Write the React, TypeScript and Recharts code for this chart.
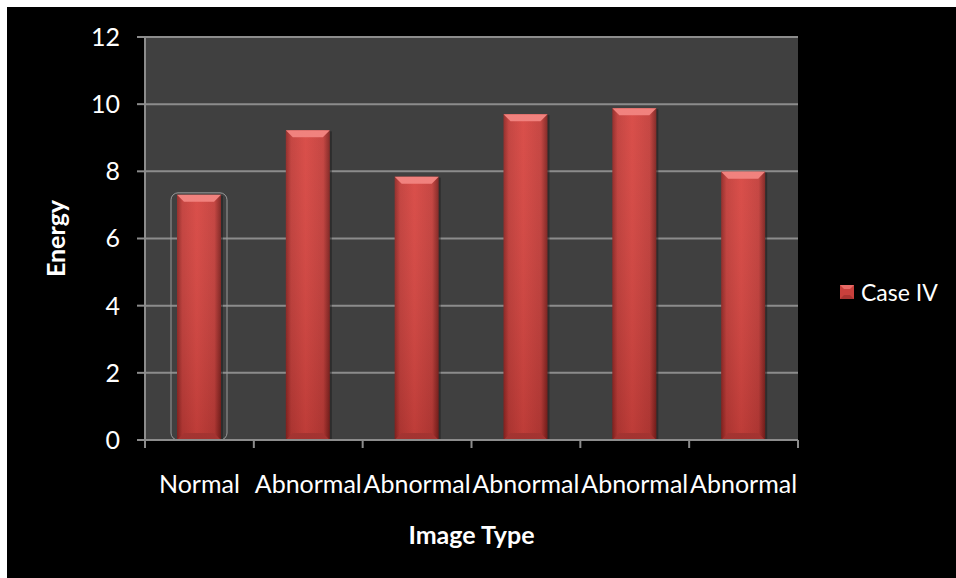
import React from 'react';
import { BarChart, Bar, XAxis, YAxis, CartesianGrid } from 'recharts';

const categories = ['Normal', 'Abnormal', 'Abnormal', 'Abnormal', 'Abnormal', 'Abnormal'];
const caseIV = [7.3, 9.22, 7.84, 9.7, 9.88, 7.99];
const yTicks = [0, 2, 4, 6, 8, 10, 12];

const data = categories.map((name, i) => ({ name, caseIV: caseIV[i] }));

const W = 956;
const H = 578;
const M = { top: 37, right: 158, left: 0, bottom: 0 };
const Y_AXIS_W = 145;
const X_AXIS_H = 138;
const PLOT_W = W - M.right - Y_AXIS_W;
const PLOT_H = H - M.top - X_AXIS_H;
const FONT = 'Lato, "Open Sans", sans-serif';
const AXIS_GREY = '#8c8c8c';

// bevelled red column, like the office "glass" style
const BevelBar = (props: any) => {
  const { x, y, width, height, index } = props;
  if (!height || height <= 0) return null;
  const b = Math.min(7, width / 6);
  return (
    <g>
      {index === 0 && (
        <rect
          x={x - 6}
          y={y - 2}
          width={width + 12}
          height={height + 2}
          rx={7}
          fill="none"
          stroke="#9a9a9a"
          strokeWidth={1}
        />
      )}
      <rect x={x + 2} y={y + 1} width={width} height={height - 1} fill="#1a1a1a" opacity={0.5} />
      <rect x={x} y={y} width={width} height={height} fill="url(#barBody)" />
      <polygon
        points={`${x},${y} ${x + width},${y} ${x + width - b},${y + b} ${x + b},${y + b}`}
        fill="#f07a76"
      />
      <polygon
        points={`${x},${y + height} ${x + width},${y + height} ${x + width - b},${y + height - b} ${x + b},${y + height - b}`}
        fill="#b93a37"
      />
      <rect x={x} y={y} width={width} height={height} fill="url(#barShade)" />
    </g>
  );
};

// category label in the middle, tick marks on the category boundaries
const CategoryTick = (props: any) => {
  const { x, y, payload, index } = props;
  const bw = PLOT_W / categories.length;
  const left = x - bw / 2;
  return (
    <g>
      <line x1={left} y1={y} x2={left} y2={y + 8} stroke={AXIS_GREY} strokeWidth={2} />
      {index === categories.length - 1 && (
        <line x1={left + bw} y1={y} x2={left + bw} y2={y + 8} stroke={AXIS_GREY} strokeWidth={2} />
      )}
      <text x={x} y={y + 53} textAnchor="middle" fill="#ffffff" fontSize={25} fontFamily={FONT}>
        {payload.value}
      </text>
    </g>
  );
};

const LegendBox = () => (
  <div
    style={{
      position: 'absolute',
      left: 840,
      top: 278,
      display: 'flex',
      alignItems: 'center',
      fontFamily: FONT,
      fontSize: 23,
      color: '#fff',
    }}
  >
    <svg width={14} height={14} style={{ marginRight: 7 }}>
      <rect x={0} y={0} width={14} height={14} fill="#c8403c" />
      <polygon points="0,0 14,0 10,4 4,4" fill="#e86a66" />
      <polygon points="0,14 14,14 10,10 4,10" fill="#a83431" />
    </svg>
    <span>Case IV</span>
  </div>
);

export default function App() {
  return (
    <div style={{ position: 'absolute', left: 0, top: 0, width: W, height: H, background: '#ffffff' }}>
      <div style={{ position: 'absolute', left: 7, top: 7, width: W - 7, height: H - 7, background: '#000000' }} />
      {/* plot area background */}
      <div
        style={{
          position: 'absolute',
          left: Y_AXIS_W,
          top: M.top,
          width: PLOT_W,
          height: PLOT_H,
          background: '#404040',
        }}
      />
      <div style={{ position: 'absolute', left: 0, top: 0 }}>
        <BarChart width={W} height={H} data={data} margin={M} barCategoryGap="0%">
          <defs>
            <linearGradient id="barBody" x1="0" y1="0" x2="1" y2="0">
              <stop offset="0%" stopColor="#8e2421" />
              <stop offset="12%" stopColor="#c13b37" />
              <stop offset="45%" stopColor="#d7443f" />
              <stop offset="85%" stopColor="#c23c38" />
              <stop offset="100%" stopColor="#7d1f1c" />
            </linearGradient>
            <linearGradient id="barShade" x1="0" y1="0" x2="0" y2="1">
              <stop offset="0%" stopColor="#ffffff" stopOpacity={0.06} />
              <stop offset="100%" stopColor="#000000" stopOpacity={0.12} />
            </linearGradient>
          </defs>
          <CartesianGrid vertical={false} stroke={AXIS_GREY} strokeWidth={2} />
          <XAxis
            dataKey="name"
            height={X_AXIS_H}
            interval={0}
            tickLine={false}
            tickSize={0}
            tickMargin={0}
            axisLine={{ stroke: AXIS_GREY, strokeWidth: 2 }}
            tick={<CategoryTick />}
            label={{
              value: 'Image Type',
              position: 'insideBottom',
              offset: 34,
              fill: '#ffffff',
              fontSize: 25,
              fontWeight: 700,
              fontFamily: FONT,
            }}
          />
          <YAxis
            width={Y_AXIS_W}
            domain={[0, 12]}
            ticks={yTicks}
            interval={0}
            tickSize={8}
            tickMargin={17}
            tickLine={{ stroke: AXIS_GREY, strokeWidth: 2 }}
            axisLine={{ stroke: AXIS_GREY, strokeWidth: 2 }}
            tick={{ fill: '#ffffff', fontSize: 25, fontFamily: FONT }}
            label={{
              value: 'Energy',
              angle: -90,
              position: 'insideLeft',
              offset: 56,
              fill: '#ffffff',
              fontSize: 25,
              fontWeight: 700,
              fontFamily: FONT,
              style: { textAnchor: 'middle' },
            }}
          />
          <Bar
            dataKey="caseIV"
            name="Case IV"
            barSize={44}
            shape={<BevelBar />}
            isAnimationActive={false}
          />
        </BarChart>
      </div>
      <LegendBox />
    </div>
  );
}
